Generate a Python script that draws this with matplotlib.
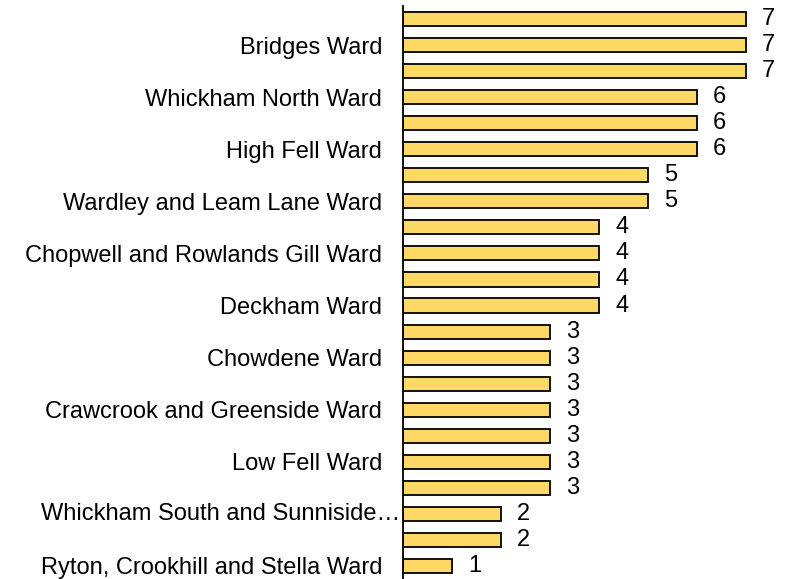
import matplotlib.pyplot as plt
import numpy as np

plt.rcParams['font.family'] = ['Liberation Sans', 'DejaVu Sans']

# wards ordered top to bottom
wards = ["Birtley Ward", "Bridges Ward", "Lobley Hill and Bensham Ward",
         "Whickham North Ward", "Saltwell Ward", "High Fell Ward",
         "Felling Ward", "Wardley and Leam Lane Ward", "Blaydon Ward",
         "Chopwell and Rowlands Gill Ward", "Dunston and Teams Ward",
         "Deckham Ward", "Lamesley Ward", "Chowdene Ward",
         "Pelaw and Heworth Ward", "Crawcrook and Greenside Ward",
         "Windy Nook and Whitehills Ward", "Low Fell Ward",
         "Winlaton and High Spen Ward", "Whickham South and Sunniside\u2026",
         "Dunston Hill and Whickham East Ward", "Ryton, Crookhill and Stella Ward"]
counts = [7, 7, 7, 6, 6, 6, 5, 5, 4, 4, 4, 4, 3, 3, 3, 3, 3, 3, 3, 2, 2, 1]

fig = plt.figure(figsize=(7.89, 5.79), dpi=100)
ax = fig.add_axes([403 / 789, 0.0, 1 - 403 / 789, 573 / 579])

y = np.arange(len(wards))
ax.barh(y, counts, height=0.54, color="#FFD966", edgecolor="black", linewidth=1.3)
for yi, v in zip(y, counts):
    ax.text(v + 0.33, yi, str(v), va="center", ha="left", fontsize=17)

ax.set_ylim(len(wards) - 0.5, -0.5)
ax.set_xlim(0, (789 - 403) / 49)
ax.set_yticks(y)
labels = []
for i, w in enumerate(wards):
    if i % 2 == 1 and not w.endswith("\u2026"):
        labels.append(w)
    else:
        labels.append("")
ax.set_yticklabels(labels, fontsize=17)
# the truncated label sits right against the axis
for i, w in enumerate(wards):
    if w.endswith("\u2026"):
        ax.text(-0.06, i, w, ha="right", va="center", fontsize=17)
ax.tick_params(axis="y", length=0, pad=15)
ax.set_xticks([])
for s in ["top", "right", "bottom"]:
    ax.spines[s].set_visible(False)
ax.spines["left"].set_linewidth(1.3)

fig.savefig("out.png", dpi=100)
